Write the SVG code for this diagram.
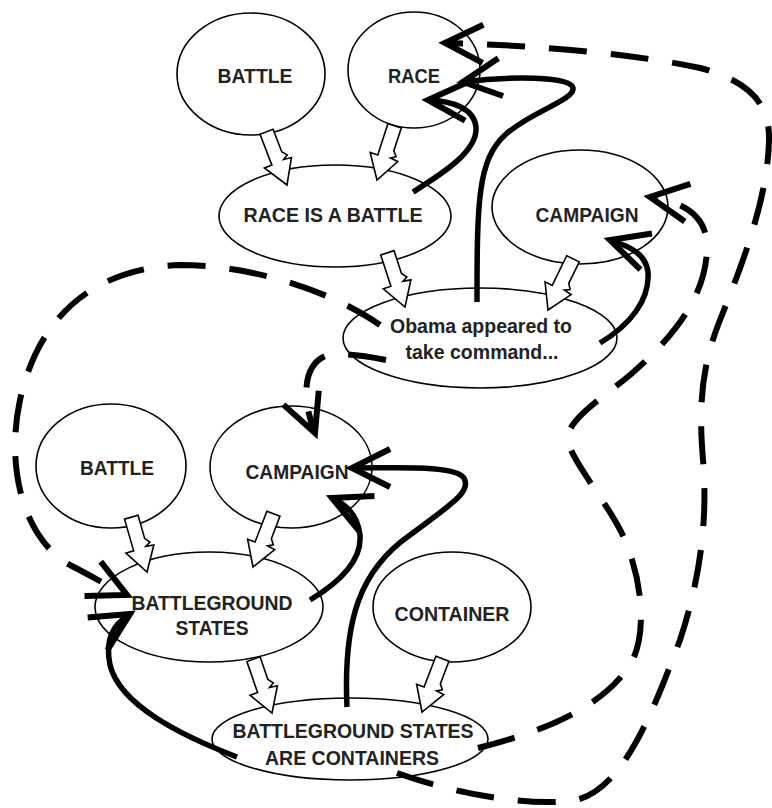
<svg xmlns="http://www.w3.org/2000/svg" width="772" height="808" viewBox="0 0 772 808">
<style>
.node ellipse{fill:#fff;stroke:#000;stroke-width:1.6}
.node text{font-family:"Liberation Sans",Arial,sans-serif;font-weight:bold;font-size:21px;fill:#222;text-anchor:middle}
.ba{fill:#fff;stroke:#000;stroke-width:1.6;stroke-linejoin:miter}
.solid{fill:none;stroke:#000;stroke-width:5.5;stroke-linecap:butt}
.dash{fill:none;stroke:#000;stroke-width:6;stroke-dasharray:38 24}
</style>
<defs>
<path id="blk" d="M-7,-57 L7,-57 L7,-33 L11,-28 L6,-25 L14,-24 L0,0 L-15,-24 L-7,-24 Z"/>
<marker id="ah" markerUnits="userSpaceOnUse" markerWidth="60" markerHeight="60" refX="50" refY="30" orient="auto" overflow="visible">
<path d="M12,11 L50,30 L12,49" fill="none" stroke="#000" stroke-width="6"/>
</marker>
</defs>
<rect width="772" height="808" fill="#fff"/>
<g id="n1" class="node"><ellipse cx="251" cy="74" rx="74" ry="61"/><text x="255" y="83" textLength="75" lengthAdjust="spacingAndGlyphs">BATTLE</text></g>
<g id="n2" class="node"><ellipse cx="414" cy="70" rx="66" ry="58"/><text x="414" y="83" textLength="52" lengthAdjust="spacingAndGlyphs">RACE</text></g>
<g id="n3" class="node"><ellipse cx="335" cy="216" rx="116" ry="51"/><text x="333" y="222" textLength="179" lengthAdjust="spacingAndGlyphs">RACE IS A BATTLE</text></g>
<g id="n4" class="node"><ellipse cx="580" cy="207" rx="88" ry="57"/><text x="587" y="222" textLength="103" lengthAdjust="spacingAndGlyphs">CAMPAIGN</text></g>
<g id="n5" class="node"><ellipse cx="480" cy="338" rx="137" ry="50"/><text x="481" y="333" textLength="182" lengthAdjust="spacingAndGlyphs">Obama appeared to</text><text x="482" y="359" textLength="153" lengthAdjust="spacingAndGlyphs">take command...</text></g>
<g id="n6" class="node"><ellipse cx="111" cy="466" rx="75" ry="62"/><text x="117" y="475" textLength="74" lengthAdjust="spacingAndGlyphs">BATTLE</text></g>
<g id="n7" class="node"><ellipse cx="291" cy="467" rx="81" ry="61"/><text x="297" y="479" textLength="103" lengthAdjust="spacingAndGlyphs">CAMPAIGN</text></g>
<g id="n8" class="node"><ellipse cx="209" cy="607" rx="114" ry="55"/><text x="212" y="610" textLength="161" lengthAdjust="spacingAndGlyphs">BATTLEGROUND</text><text x="212" y="635" textLength="73" lengthAdjust="spacingAndGlyphs">STATES</text></g>
<g id="n9" class="node"><ellipse cx="452" cy="607" rx="79" ry="55"/><text x="452" y="621" textLength="115" lengthAdjust="spacingAndGlyphs">CONTAINER</text></g>
<g id="n10" class="node"><ellipse cx="350" cy="739" rx="138" ry="41"/><text x="353" y="738" textLength="241" lengthAdjust="spacingAndGlyphs">BATTLEGROUND STATES</text><text x="352" y="765" textLength="174" lengthAdjust="spacingAndGlyphs">ARE CONTAINERS</text></g>
<g id="blockarrows">
<use href="#blk" class="ba" transform="translate(287,185) rotate(-21)"/>
<use href="#blk" class="ba" transform="translate(377,180) rotate(18)"/>
<use href="#blk" class="ba" transform="translate(405,307) rotate(-18)"/>
<use href="#blk" class="ba" transform="translate(548,310) rotate(26)"/>
<use href="#blk" class="ba" transform="translate(147,572) rotate(-16)"/>
<use href="#blk" class="ba" transform="translate(253,567) rotate(21)"/>
<use href="#blk" class="ba" transform="translate(272,713) rotate(-19)"/>
<use href="#blk" class="ba" transform="translate(422,712) rotate(21)"/>
</g>
<g id="connectors">
<path class="solid" marker-end="url(#ah)" d="M413,192 C440,175 478,152 476,127 C474,108 452,101 428,100"/>
<path class="solid" marker-end="url(#ah)" d="M477,302 C477,200 478,160 505,135 C530,112 575,100 573,88 C571,76 510,76 463,82"/>
<path class="solid" marker-end="url(#ah)" d="M600,343 C630,325 650,300 648,272 C646,255 632,247 610,240"/>
<path class="solid" marker-end="url(#ah)" d="M310,600 C340,582 362,560 360,535 C358,518 350,506 332,498"/>
<path class="solid" marker-end="url(#ah)" d="M347,707 C343,620 360,570 410,535 C450,505 472,492 464,478 C455,465 400,468 352,468"/>
<path class="solid" marker-end="url(#ah)" d="M237,757 C180,735 120,705 110,665 C105,640 112,625 130,614"/>
<path class="dash" marker-end="url(#ah)" d="M380,325 C330,290 250,265 180,265 C100,268 40,310 20,400 C5,470 25,540 70,565 C95,578 110,587 127,595"/>
<path class="dash" marker-end="url(#ah)" d="M386,360 C365,356 340,352 325,356 C305,365 300,395 315,433"/>
<path class="dash" marker-end="url(#ah)" d="M397,773 C450,792 520,806 570,801 C620,795 650,720 680,640 C700,580 708,520 703,460 C699,410 700,370 720,320 C740,270 768,200 769,140 C770,100 745,80 700,68 C640,55 540,45 445,43"/>
<path class="dash" marker-end="url(#ah)" d="M478,748 C540,732 600,710 630,665 C648,635 642,580 625,540 C610,505 570,460 568,440 C566,420 600,400 630,375 C670,340 705,300 707,250 C708,220 690,203 650,197"/>
</g>
</svg>
